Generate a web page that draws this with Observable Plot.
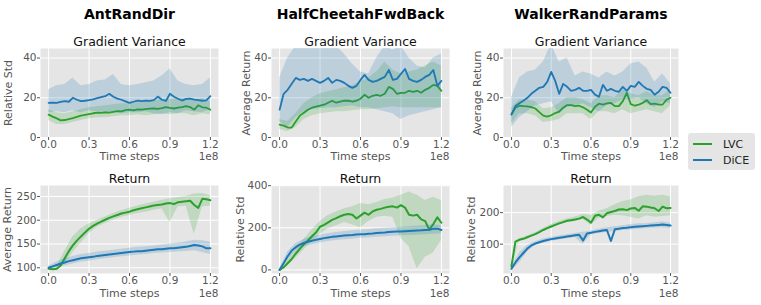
<!DOCTYPE html>
<html><head><meta charset="utf-8">
<script src="https://cdn.jsdelivr.net/npm/d3@7"></script>
<script src="https://cdn.jsdelivr.net/npm/@observablehq/plot@0.6"></script>
<style>
body{margin:0;background:#fff;}
#fig{position:relative;width:761px;height:305px;font-family:"DejaVu Sans",sans-serif;overflow:hidden;background:#fff;}
#fig svg.pnl{position:absolute;}
#legend{position:absolute;left:688px;top:133px;width:67px;height:37px;background:#e5e5e5;border-radius:3px;}
</style></head><body><div id="fig"></div>
<script>
// x positions (units of 1e8 time steps)
const steps = [0,0.03,0.06,0.09,0.12,0.15,0.18,0.21,0.24,0.27,0.30,0.33,0.36,0.39,0.42,0.45,0.48,0.51,0.54,0.57,0.60,0.63,0.66,0.69,0.72,0.75,0.78,0.81,0.84,0.87,0.90,0.93,0.96,0.99,1.02,1.05,1.08,1.11,1.14,1.17,1.20];
const bandSteps = [0,0.06,0.12,0.18,0.24,0.30,0.36,0.42,0.48,0.54,0.60,0.66,0.72,0.78,0.84,0.90,0.96,1.02,1.08,1.14,1.20];
const xTicks = [0,0.3,0.6,0.9,1.2];
const methods = ["LVC","DiCE"];
const envs = ["AntRandDir","HalfCheetahFwdBack","WalkerRandParams"];

// AntRandDir - Gradient Variance
const ant_gv_lvc = [11.5,10.5,9.6,8.6,8.8,9.3,9.8,10.4,11.0,11.4,11.8,12.2,12.5,12.4,12.6,12.5,12.9,13.3,13.2,13.8,14.0,13.6,14.1,14.0,14.3,14.5,14.6,14.4,14.8,15.3,14.9,14.6,15.0,15.3,15.8,15.3,14.0,16.2,15.2,15.0,14.0];
const ant_gv_lvc_lo = [8.5,6.5,6.5,7.5,8.5,9.5,10,10,10.5,11,11,11.5,11,11.5,12,11.5,12,12,11,12,11.5];
const ant_gv_lvc_hi = [14,12.5,12,13,14,15,15.5,16,16.5,17,17,17.5,18,18.5,19,19,19.5,19.5,18.5,19.5,18];
const ant_gv_dice = [17.4,17.6,17.4,17.9,18.3,18.0,20.0,19.0,18.3,18.5,18.8,19.2,19.8,20.3,20.8,22.0,20.5,19.6,19.0,18.2,17.4,18.0,18.6,18.3,18.6,18.4,18.8,20.6,19.0,18.4,22.0,20.5,19.5,18.6,19.4,19.6,19.1,18.8,18.5,18.7,20.8];
const ant_gv_dice_lo = [12.5,13,12.5,13.5,12.5,13.5,13,12.5,13,12,12.5,12.5,13,12,11.5,12.5,12,13.5,13,12.5,14];
const ant_gv_dice_hi = [24,26,26.7,30,26,26.7,28.4,29,31.7,26.7,26,26.7,27.5,28.4,31,34.5,28.4,26.7,26,26.7,30];

// HalfCheetahFwdBack - Gradient Variance
const cheetah_gv_lvc = [6.5,6,5,5,8,11,12.5,14,15,15.5,16,16.5,17.5,18.5,17.5,18,18.5,18.5,18,18.5,19.5,21.5,20,21,21.5,21,22,25.5,24.5,22,22.5,22.5,23.5,23,23.5,22.5,24,25,26.5,26,23.5];
const cheetah_gv_lvc_lo = [4,3,5,9,11,12,12.5,13,13,13.5,14,14,14.5,15,15.5,15,15,15,15,15,15];
const cheetah_gv_lvc_hi = [9,8,12,17,20,22,23,24,25,26,28,30,33,38,34,32,33,34,36,38,36];
const cheetah_gv_dice = [14,22,24,27,30,29,29.5,28.5,29.5,28.5,27.5,28.5,30,27.5,29,28.5,27.5,26,25,26,29,31.5,29,28,28.5,29.5,30.5,34,29,29.5,32,34.5,29.5,28.5,28,29,30.5,31.5,34,26,28.5];
const cheetah_gv_dice_lo = [8,5,10,13,14,14.5,15,15,15.5,16,15,15,14,13,12,9,11,12,13,14,15];
const cheetah_gv_dice_hi = [30,40,46,46,46,46,46,46,42,37,33,32,40,46,44,46,40,36,35,40,42];

// WalkerRandParams - Gradient Variance
const walker_gv_lvc = [11.6,15,16,15.8,15.7,15.3,14.6,12.8,11,10.5,11.2,12.3,13,15,16.3,16.3,15.8,16,15.2,14,12.6,15.5,17,16.6,17.2,17.4,15.8,15.8,18.3,22.5,16.8,16,16.5,17.4,18.8,16.8,17,16.5,16.6,19,20];
const walker_gv_lvc_lo = [7,12,12,11,7.5,8,9,12,12,12,9,13,13,12,14,12,13,14,13,12,16];
const walker_gv_lvc_hi = [15,19,19,18,14.5,15,17,20,20,19,17,21,21,20,24,22,21,23,21,21,24];
const walker_gv_dice = [11.6,15.8,17.2,18.5,20,22,23.5,25,25.5,28,33,28.5,22,27,25.5,23.5,24,25,23.5,23.5,24,21.6,20.5,26.5,23.5,24.5,23.5,23,25.5,23.5,26,25.5,28,26,24.5,24,21.5,23,25.5,25,22.5];
const walker_gv_dice_lo = [5,10,13,16,17,18,12,15,16,17,15,13,16,17,19,19,20,17,15,18,17];
const walker_gv_dice_hi = [20,30,33,34,38,47,38,40,31,33,32,30,33,31,33,37,38,35,28,32,27];

// AntRandDir - Return
const ant_ret_lvc = [98,97,98,105,120,135,147,157,166,174,182,188,193,197,201,205,208,211,214,216,218,221,223,225,227,229,231,232,233,235,236,234,238,239,240,241,232,226,245,244,242];
const ant_ret_lvc_lo = [95,94,108,132,152,172,185,193,200,206,210,214,217,221,224,195,228,230,170,228,230];
const ant_ret_lvc_hi = [100,102,135,165,182,192,200,207,214,220,225,230,234,238,242,245,248,250,255,256,252];
const ant_ret_dice = [100,103,106,109,111,114,116,118,120,121,122,123,125,126,127,128,129,130,131,132,133,134,135,135,136,137,138,139,139,140,141,141,142,143,144,146,148,147,145,141,141];
const ant_ret_dice_lo = [97,101,104,108,112,114,117,119,121,123,125,127,128,130,131,132,133,134,136,132,128];
const ant_ret_dice_hi = [103,112,119,124,128,130,133,135,137,139,141,143,144,146,148,150,152,154,158,157,154];

// HalfCheetahFwdBack - Return
const cheetah_ret_lvc = [0,12,32,52,78,100,122,140,160,178,205,214,226,238,246,255,262,266,262,244,258,272,262,278,286,290,296,300,302,296,308,296,262,258,262,240,232,190,218,250,224];
const cheetah_ret_lvc_lo = [0,20,55,95,135,170,195,210,225,215,200,230,250,255,250,150,110,5,60,80,140];
const cheetah_ret_lvc_hi = [5,45,95,145,190,230,258,275,290,300,315,310,320,335,340,355,370,355,330,345,330];
const cheetah_ret_dice = [0,32,65,92,108,120,128,134,139,143,147,151,154,157,159,161,163,165,166,168,169,170,172,173,175,177,178,180,181,182,183,184,185,186,187,188,190,191,195,196,190];
const cheetah_ret_dice_lo = [0,45,90,110,120,128,135,140,143,146,150,152,155,158,160,162,163,165,167,170,172];
const cheetah_ret_dice_hi = [5,85,125,145,158,165,172,178,183,186,190,192,196,198,200,203,205,207,210,214,210];

// WalkerRandParams - Return
const walker_ret_lvc = [30,108,114,117,122,127,132,138,145,151,156,161,166,170,174,176,178,181,186,178,168,190,193,185,198,202,205,210,211,208,213,215,206,220,219,216,214,205,219,214,215];
const walker_ret_lvc_lo = [25,110,118,128,140,150,160,168,172,178,160,182,188,192,190,185,180,190,185,188,190];
const walker_ret_lvc_hi = [35,118,126,136,150,162,172,180,186,194,192,204,212,225,235,240,250,255,252,255,250];
const walker_ret_dice = [22,42,58,72,86,96,102,106,110,113,116,118,120,122,124,126,128,130,112,134,136,139,141,143,145,110,147,149,151,152,154,155,156,157,158,159,160,161,162,161,159];
const walker_ret_dice_lo = [15,40,75,95,103,109,113,117,121,100,129,134,137,140,143,145,147,150,151,152,150];
const walker_ret_dice_hi = [28,72,96,108,116,122,126,130,134,138,142,147,152,155,158,162,165,165,168,170,167];

const GREEN = "#2ca02c", BLUE = "#1f77b4";

function lineRows(ys){ return steps.map((x,i)=>({x, y: ys[i]})); }
function bandRows(lo, hi){ return bandSteps.map((x,i)=>({x, lo: lo[i], hi: hi[i]})); }

const panels = [
  {title: envs[0], sub: "Gradient Variance", ylabel: "Relative Std", left: 0, top: 0, ml: 40, mt: 48, pw: 178, ph: 89, mr: 17, mb: 28, ydom: [0, 44.8], yticks: [0,20,40], ydx: -36.5, xdy: 22, sdy: -3,
   lvc: [ant_gv_lvc, ant_gv_lvc_lo, ant_gv_lvc_hi], dice: [ant_gv_dice, ant_gv_dice_lo, ant_gv_dice_hi], sw: 1.8},
  {title: envs[1], sub: "Gradient Variance", ylabel: "Average Return", left: 235, top: 0, ml: 36, mt: 48, pw: 178, ph: 89, mr: 16, mb: 28, ydom: [0, 44.8], yticks: [0,20,40], ydx: -29, xdy: 22, sdy: -3,
   lvc: [cheetah_gv_lvc, cheetah_gv_lvc_lo, cheetah_gv_lvc_hi], dice: [cheetah_gv_dice, cheetah_gv_dice_lo, cheetah_gv_dice_hi], sw: 1.8},
  {title: envs[2], sub: "Gradient Variance", ylabel: "Average Return", left: 465, top: 0, ml: 38, mt: 48, pw: 175, ph: 89, mr: 12, mb: 28, ydom: [0, 44.8], yticks: [0,20,40], ydx: -30, xdy: 22, sdy: -3,
   lvc: [walker_gv_lvc, walker_gv_lvc_lo, walker_gv_lvc_hi], dice: [walker_gv_dice, walker_gv_dice_lo, walker_gv_dice_hi], sw: 1.8},
  {title: null, sub: "Return", ylabel: "Average Return", left: 0, top: 165, ml: 40, mt: 20, pw: 178, ph: 88, mr: 17, mb: 32, ydom: [88, 273], yticks: [100,150,200,250], ydx: -37, xdy: 23, sdy: -2.5,
   lvc: [ant_ret_lvc, ant_ret_lvc_lo, ant_ret_lvc_hi], dice: [ant_ret_dice, ant_ret_dice_lo, ant_ret_dice_hi], sw: 2},
  {title: null, sub: "Return", ylabel: "Relative Std", left: 230, top: 165, ml: 41, mt: 20, pw: 178, ph: 88, mr: 16, mb: 32, ydom: [-17, 401], yticks: [0,200,400], ydx: -35, xdy: 23, sdy: -2.5,
   lvc: [cheetah_ret_lvc, cheetah_ret_lvc_lo, cheetah_ret_lvc_hi], dice: [cheetah_ret_dice, cheetah_ret_dice_lo, cheetah_ret_dice_hi], sw: 2},
  {title: null, sub: "Return", ylabel: "Relative Std", left: 465, top: 165, ml: 38, mt: 20, pw: 175, ph: 88, mr: 12, mb: 32, ydom: [7, 286], yticks: [100,200], ydx: -36, xdy: 23, sdy: -2.5,
   lvc: [walker_ret_lvc, walker_ret_lvc_lo, walker_ret_lvc_hi], dice: [walker_ret_dice, walker_ret_dice_lo, walker_ret_dice_hi], sw: 2}
];

const fig = document.getElementById("fig");
for (const p of panels) {
  const marks = [
    Plot.frame({fill: "#e5e5e5"}),
    Plot.gridX(xTicks, {stroke: "white", strokeOpacity: 1, strokeWidth: 1}),
    Plot.gridY(p.yticks, {stroke: "white", strokeOpacity: 1, strokeWidth: 1}),
    Plot.areaY(bandRows(p.lvc[1], p.lvc[2]), {x: "x", y1: "lo", y2: "hi", fill: GREEN, fillOpacity: 0.2, clip: true}),
    Plot.line(lineRows(p.lvc[0]), {x: "x", y: "y", stroke: GREEN, strokeWidth: p.sw, clip: true}),
    Plot.areaY(bandRows(p.dice[1], p.dice[2]), {x: "x", y1: "lo", y2: "hi", fill: BLUE, fillOpacity: 0.2, clip: true}),
    Plot.line(lineRows(p.dice[0]), {x: "x", y: "y", stroke: BLUE, strokeWidth: p.sw, clip: true}),
    Plot.axisX({ticks: xTicks, tickFormat: d3.format(".1f"), tickSize: 3, tickPadding: 0, fontSize: 10.5, label: null}),
    Plot.axisY({ticks: p.yticks, tickSize: 3, tickPadding: 1, fontSize: 10.5, label: null}),
    Plot.text([p.sub], {text: d => d, frameAnchor: "top", textAnchor: "middle", lineAnchor: "bottom", dy: p.sdy, fontSize: 12.5, fill: "#111"}),
    Plot.text(["Time steps"], {text: d => d, frameAnchor: "bottom", textAnchor: "middle", lineAnchor: "bottom", dy: p.xdy, fontSize: 11, fill: "#555"}),
    Plot.text(["1e8"], {text: d => d, frameAnchor: "bottom-right", textAnchor: "end", lineAnchor: "bottom", dy: p.xdy, fontSize: 10.5, fill: "#555"}),
    Plot.text([p.ylabel], {text: d => d, frameAnchor: "left", textAnchor: "middle", rotate: -90, lineAnchor: "top", dx: p.ydx, fontSize: 11, fill: "#555"})
  ];
  if (p.title) marks.push(Plot.text([p.title], {text: d => d, frameAnchor: "top", textAnchor: "middle", lineAnchor: "bottom", dy: -29.7, fontSize: 14, fontWeight: "bold", fill: "#000"}));
  const svg = Plot.plot({
    width: p.ml + p.pw + p.mr,
    height: p.mt + p.ph + p.mb,
    marginLeft: p.ml, marginRight: p.mr, marginTop: p.mt, marginBottom: p.mb,
    x: {domain: [-0.06, 1.26]},
    y: {domain: p.ydom},
    style: {background: "transparent", color: "#555", fontFamily: "DejaVu Sans", fontSize: "10.5px", overflow: "visible"},
    marks
  });
  svg.classList.add("pnl");
  svg.style.position = "absolute";
  svg.style.left = p.left + "px";
  svg.style.top = p.top + "px";
  svg.style.maxWidth = "none";
  fig.appendChild(svg);
}

// legend
const legend = document.createElement("div");
legend.id = "legend";
const colors = [GREEN, BLUE];
let lsvg = `<svg width="67" height="37" style="font-family:'DejaVu Sans';font-size:11px">`;
methods.forEach((m, i) => {
  const y = 11 + i * 16;
  lsvg += `<line x1="5" x2="24" y1="${y}" y2="${y}" stroke="${colors[i]}" stroke-width="2"/>`;
  lsvg += `<text x="35" y="${y + 4}" fill="#222">${m}</text>`;
});
lsvg += `</svg>`;
legend.innerHTML = lsvg;
fig.appendChild(legend);
</script>
</body></html>
